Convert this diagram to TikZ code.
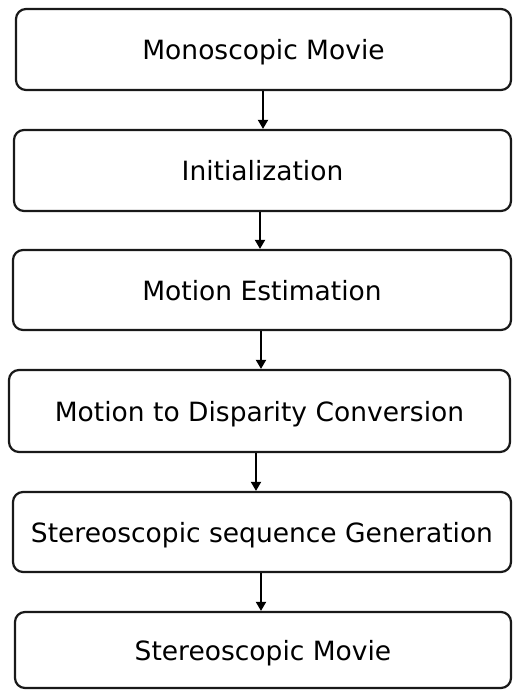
\documentclass[tikz,border=0pt]{standalone}
\usepackage{fontspec}
\setmainfont{DejaVu Sans}
\usetikzlibrary{arrows.meta}
\begin{document}
\begin{tikzpicture}[x=1pt,y=1pt,
  stage/.style={draw=black!90, line width=2.2pt, rounded corners=10pt,
    fill=white, inner sep=0pt, text depth=0pt, font=\fontsize{26.5}{30}\selectfont},
  flow/.style={line width=1.8pt, -{Triangle[length=9pt,width=10pt]}}]
  \useasboundingbox (0,0) rectangle (512,-690);
  % stages, top to bottom
  \node[stage, minimum width=495pt, minimum height=81pt] (b1) at (263.5,-49.5) {Monoscopic Movie};
  \node[stage, minimum width=497pt, minimum height=81pt] (b2) at (262.5,-170.5) {Initialization};
  \node[stage, minimum width=498pt, minimum height=80pt] (b3) at (262,-290) {Motion Estimation};
  \node[stage, minimum width=501pt, minimum height=82pt] (b4) at (259.5,-411) {Motion to Disparity Conversion};
  \node[stage, minimum width=498pt, minimum height=80pt] (b5) at (262,-532) {Stereoscopic sequence Generation};
  \node[stage, minimum width=496pt, minimum height=76pt] (b6) at (263,-650) {Stereoscopic Movie};
  % connectors
  \draw[flow] ([xshift=-0.5pt]b1.south) -- ([xshift=0.5pt]b2.north);
  \draw[flow] ([xshift=-2.5pt]b2.south) -- ([xshift=-2pt]b3.north);
  \draw[flow] ([xshift=-1pt]b3.south) -- ([xshift=1.5pt]b4.north);
  \draw[flow] ([xshift=-3.5pt]b4.south) -- ([xshift=-6pt]b5.north);
  \draw[flow] ([xshift=-1pt]b5.south) -- ([xshift=-2pt]b6.north);
\end{tikzpicture}
\end{document}
